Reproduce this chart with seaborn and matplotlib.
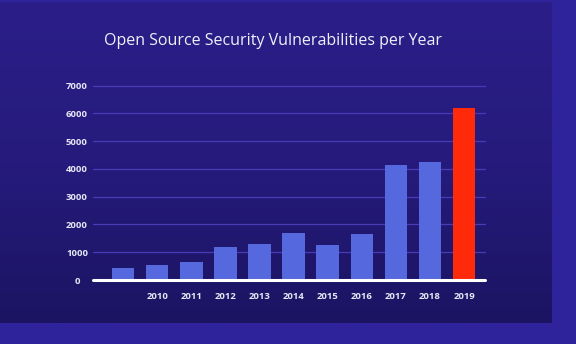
import numpy as np
import pandas as pd
import matplotlib
matplotlib.use("Agg")
import matplotlib.pyplot as plt
import seaborn as sns
from matplotlib.colors import LinearSegmentedColormap

# ---- data ----
years = ["2009", "2010", "2011", "2012", "2013", "2014", "2015", "2016", "2017", "2018", "2019"]
tick_labels = ["", "2010", "2011", "2012", "2013", "2014", "2015", "2016", "2017", "2018", "2019"]
vulns = [450, 550, 650, 1200, 1300, 1700, 1250, 1650, 4150, 4250, 6200]
y_ticks = [0, 1000, 2000, 3000, 4000, 5000, 6000, 7000]
title = "Open Source Security Vulnerabilities per Year"

bar_blue = "#5568de"
bar_red = "#ff2a0a"
colors = [bar_blue] * (len(years) - 1) + [bar_red]

sns.set_theme(style="white")
plt.rcParams["font.family"] = ["Open Sans", "DejaVu Sans"]

fig = plt.figure(figsize=(5.76, 3.44), dpi=100)
fig.patch.set_facecolor("#2f239c")

# slide background gradient
bg = fig.add_axes([0, 1 - 323 / 344, 552 / 576, 321 / 344])
grad = np.linspace(0, 1, 256).reshape(-1, 1)
cmap = LinearSegmentedColormap.from_list("bg", ["#2b1e89", "#261b7c", "#1b1462"])
bg.imshow(grad, aspect="auto", cmap=cmap, extent=[0, 1, 0, 1], origin="upper")
bg.set_axis_off()

ax = fig.add_axes([92.7 / 576, 1 - 280 / 344, (485 - 92.7) / 576, (280 - 85.7) / 344])
ax.patch.set_alpha(0)

df = pd.DataFrame({"year": years, "vulns": vulns})
sns.barplot(data=df, x="year", y="vulns", hue="year", palette=colors,
            legend=False, width=0.66, saturation=1, linewidth=0,
            ax=ax, zorder=3)

ax.set_xlim(-0.89, 10.61)
ax.set_ylim(0, 7000)
ax.set_yticks(y_ticks)
ax.set_xticks(range(len(years)))
ax.set_xticklabels(tick_labels)
ax.set_xlabel("")
ax.set_ylabel("")

for y in y_ticks[1:]:
    ax.axhline(y, color="#4a3ab8", lw=0.9, zorder=1, clip_on=False)
ax.axhline(0, color="white", lw=2.2, zorder=4, clip_on=False)

for s in ax.spines.values():
    s.set_visible(False)

ax.tick_params(axis="both", length=0, colors="#e6e6f5", labelsize=6.8)
ax.tick_params(axis="y", pad=11.3)
ax.tick_params(axis="x", pad=8.3)
for lbl in ax.get_yticklabels():
    lbl.set_ha("center")
    lbl.set_fontweight("bold")
for lbl in ax.get_xticklabels():
    lbl.set_fontweight("bold")

fig.text(104 / 576, 1 - 41 / 344, title, ha="left", va="center",
         color="#f0f0fa", fontsize=11.5)

fig.savefig("out.png", dpi=100, facecolor=fig.get_facecolor())
